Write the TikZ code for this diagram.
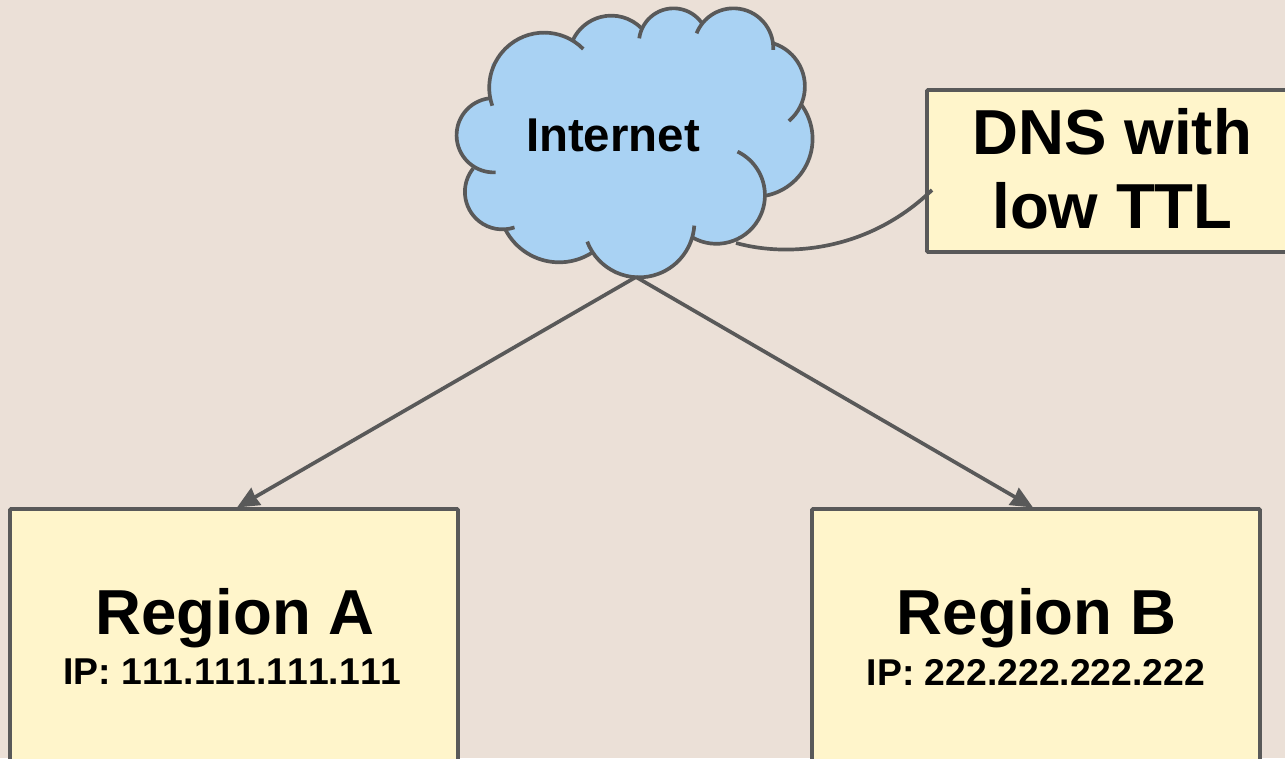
\documentclass[tikz,border=0pt]{standalone}
\usepackage{fontspec}
\setmainfont{Liberation Sans}
\usetikzlibrary{arrows.meta}
\definecolor{paper}{HTML}{EBE0D7}
\definecolor{boxfill}{HTML}{FFF5CB}
\definecolor{cloudfill}{HTML}{A9D2F3}
\definecolor{linegray}{HTML}{595959}
\tikzset{
         regionbox/.style=
          {
           draw=linegray,
           fill=boxfill,
           line width=2.1pt,
           rounded corners=0.5pt,
           inner sep=0pt,
           outer sep=0pt,
           minimum width=8.96cm
          },
         wire/.style={draw=linegray,line width=2.1pt},
         tipped/.style={wire,-{Stealth[length=12.5pt,width=11pt,inset=0.5pt]}},
         bigtext/.style={font=\bfseries\fontsize{36.2}{42}\selectfont,align=center},
         midtext/.style={font=\bfseries\fontsize{27}{32}\selectfont},
         iptext/.style={font=\bfseries\fontsize{21.25}{26}\selectfont\addfontfeatures{Kerning=Off}}
        }
% centre x / centre y / radius / start / end of each lobe
\def\cloudlobes{312.7/262.7/164.8/-44.6/-199.3,161.5/405.7/111.5/-97/-272.8,
187.5/575.7/112.5/-141.1/-288.8,357.9/605.1/181.9/152.2/56.6,597.3/665.9/166.2/159.2/3.8,
829.6/585.9/145.5/120/-64.2,944.6/416.8/173.4/78.9/-35.9,959.3/259.4/135.7/49.8/-72.5,
880.8/144.3/119.3/2.7/-158.2,700.9/128.8/103.8/-35.9/-172.4,514.2/174.2/127.3/-44.5/-153.8}
\begin{document}
\begin{tikzpicture}[x=0.02cm,y=-0.02cm]
\useasboundingbox(0,0)rectangle(1285,758);
\clip(0,0)rectangle(1285,758);
\fill[paper](0,0)rectangle(1285,758);
%boxes
\node[regionbox,minimum height=6cm,anchor=north](regiona)at(234,509){};
\node[regionbox,minimum height=6cm,anchor=north](regionb)at(1036,509){};
\node[regionbox,minimum width=8cm,minimum height=3.24cm,anchor=north west](dnsbox)at(927,90){};
%cloud
\coordinate(cloudbottom)at(636,277);
\coordinate(cloudtail)at(736,243);
\coordinate(dnstail)at(932,190);
\draw[wire](cloudtail)..controls(790,258)and(870,250)..(dnstail);
\begin{scope}[xshift=8.8cm,x=0.02cm/3,y=-0.02cm/3]
\fill[cloudfill](148,295)--(155,190)--(400,118)--(598,85)--(785,68)--(1000,130)--(1085,315)
--(978,587)--(757,712)--(600,800)--(197,690)--(100,505)--cycle;
\foreach \cx/\cy/\rad/\from/\upto in \cloudlobes{
\fill[cloudfill](\cx,\cy)circle[radius=\rad];
}
\foreach \cx/\cy/\rad/\from/\upto in \cloudlobes{
\draw[wire](\cx,\cy)++(\from:\rad)arc[start angle=\from,end angle=\upto,radius=\rad];
}
\end{scope}
%connectors
\draw[tipped](cloudbottom)--([xshift=0.06cm,yshift=0.03cm]regiona.north);
\draw[tipped](cloudbottom)--([xshift=-0.06cm,yshift=0.03cm]regionb.north);
%labels
\node[midtext](internet)at(613,135){Internet};
\node[bigtext](dnstext)at(1112.5,169){DNS with\\low TTL};
\node[bigtext](regionatext)at(235,618){Region A};
\node[iptext](regionaip)at(232.5,672){IP: 111.111.111.111};
\node[bigtext](regionbtext)at(1036.5,618){Region B};
\node[iptext](regionbip)at(1036,672){IP: 222.222.222.222};
\end{tikzpicture}
\end{document}
